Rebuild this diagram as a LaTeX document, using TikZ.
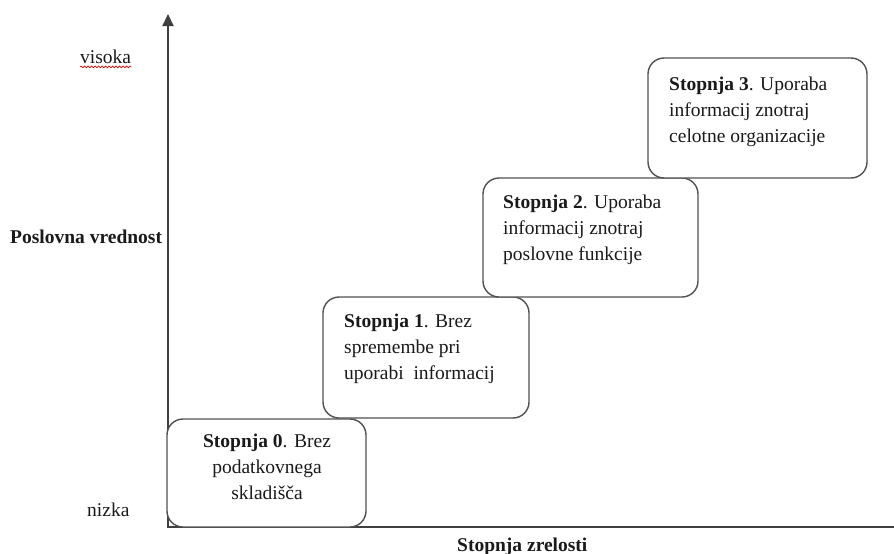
\documentclass[tikz,border=0pt]{standalone}
\usepackage{fontspec}
\setmainfont{Liberation Serif}
\usetikzlibrary{arrows.meta,decorations.pathmorphing}
\definecolor{axisgray}{HTML}{404040}
\definecolor{boxgray}{HTML}{505050}
\definecolor{inkblack}{HTML}{1A1A1A}
\begin{document}
\begin{tikzpicture}[x=1pt,y=-1pt,
  axisline/.style={draw=axisgray,line width=2pt},
  stagebox/.style={draw=boxgray,line width=1.4pt,rounded corners=16pt,
    fill=white,inner sep=0pt},
  stagetext/.style={inner sep=0pt,text=inkblack,
    font=\fontsize{19.5}{26}\selectfont},
  axislabel/.style={inner sep=0pt,text=inkblack,anchor=base west,
    font=\fontsize{19.5}{26}\selectfont}]
  \useasboundingbox (0,0) rectangle (894,554);

  % axes
  \coordinate (origin) at (168,527);
  \coordinate (ytop) at (168,14);
  \coordinate (xstart) at (167,527);
  \coordinate (xend) at (894,527);
  \draw[axisline,-{Triangle[width=11pt,length=12pt]}] (origin) -- (ytop);
  \draw[axisline] (xstart) -- (xend);

  % maturity stages
  \node[stagebox,minimum width=199pt,minimum height=108pt] (s0) at (266.5,473) {};
  \node[stagebox,minimum width=206pt,minimum height=121pt] (s1) at (426,357.5) {};
  \node[stagebox,minimum width=215pt,minimum height=119pt] (s2) at (590.5,237.5) {};
  \node[stagebox,minimum width=219pt,minimum height=120pt] (s3) at (757.5,118) {};

  \node[stagetext,anchor=north,align=center] (t0) at (267,428.8)
    {\strut\textbf{Stopnja 0}. Brez\\podatkovnega\\skladišča};
  \node[stagetext,anchor=north west,align=left] (t1) at (344,308.8)
    {\strut\textbf{Stopnja 1}. Brez\\spremembe pri\\uporabi~ informacij};
  \node[stagetext,anchor=north west,align=left] (t2) at (503,189.8)
    {\strut\textbf{Stopnja 2}. Uporaba\\informacij znotraj\\poslovne funkcije};
  \node[stagetext,anchor=north west,align=left] (t3) at (669,71.8)
    {\strut\textbf{Stopnja 3}. Uporaba\\informacij znotraj\\celotne organizacije};

  % axis labels
  \node[axislabel] (high) at (80,63) {visoka};
  \draw[red!85!black,line width=0.6pt,decorate,
    decoration={snake,amplitude=0.9pt,segment length=3.5pt}]
    (high.south west) ++(0,3.5) coordinate (wl) -- (high.south east |- wl);
  \node[axislabel] (low) at (87,516) {nizka};
  \node[axislabel,font=\fontsize{19.5}{26}\selectfont\bfseries] (yname) at (10,243) {Poslovna vrednost};
  \node[axislabel,font=\fontsize{19.5}{26}\selectfont\bfseries] (xname) at (457,551) {Stopnja zrelosti};
\end{tikzpicture}
\end{document}
